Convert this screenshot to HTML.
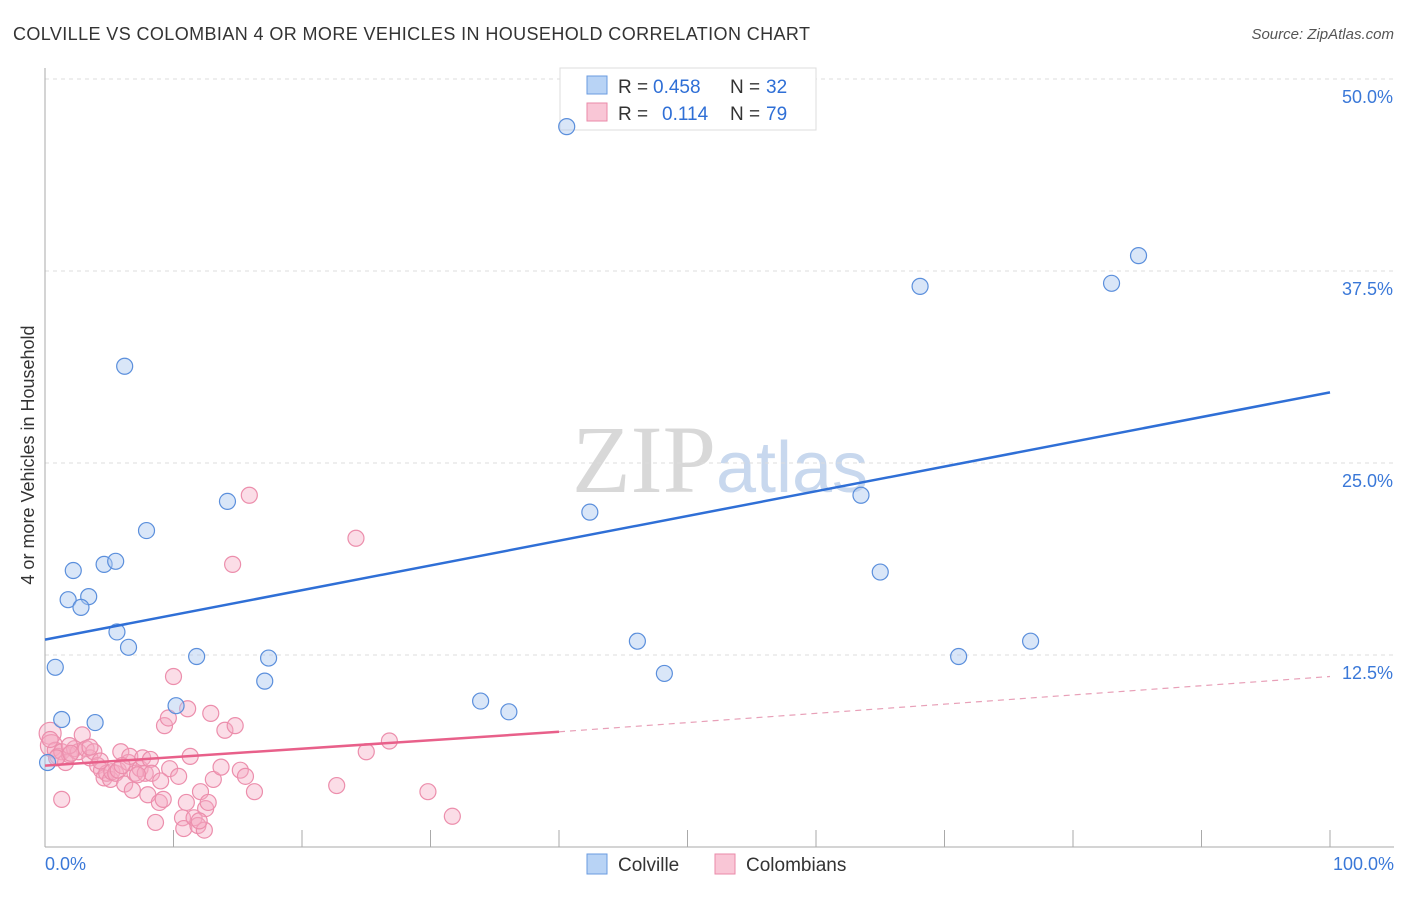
<!DOCTYPE html>
<html><head><meta charset="utf-8"><style>
body{margin:0;background:#fff;font-family:"Liberation Sans",sans-serif;}
</style></head><body>
<svg id="c" width="1406" height="892" xmlns="http://www.w3.org/2000/svg">
<text x="13" y="40" font-size="18" fill="#333" textLength="797">COLVILLE VS COLOMBIAN 4 OR MORE VEHICLES IN HOUSEHOLD CORRELATION CHART</text>
<text x="1394" y="39" font-size="15" fill="#555" font-style="italic" text-anchor="end">Source: ZipAtlas.com</text>
<text x="720" y="492" font-size="96" fill="#ddd" text-anchor="middle" font-family="Liberation Serif,serif"><tspan fill="#d8d8d8">ZIP</tspan><tspan fill="#c8d8ee" font-family="Liberation Sans,sans-serif" font-size="72">atlas</tspan></text>
<g id="grid"></g><g id="axes"></g>
<g>
<rect x="560" y="68" width="256" height="62" fill="#fff" stroke="#ddd"/>
<rect x="587" y="76" width="20" height="18" fill="#b8d3f5" stroke="#6a9be0"/>
<rect x="587" y="103" width="20" height="18" fill="#f9c6d6" stroke="#ea8aa8"/>
<text x="618" y="93" font-size="19" fill="#333">R =</text>
<text x="653" y="93" font-size="19" fill="#2f6fd6">0.458</text>
<text x="730" y="93" font-size="19" fill="#333">N =</text>
<text x="766" y="93" font-size="19" fill="#2f6fd6">32</text>
<text x="618" y="120" font-size="19" fill="#333">R =</text>
<text x="662" y="120" font-size="19" fill="#2f6fd6">0.114</text>
<text x="730" y="120" font-size="19" fill="#333">N =</text>
<text x="766" y="120" font-size="19" fill="#2f6fd6">79</text>
</g>
<g id="marks"></g>
<text transform="translate(34,455) rotate(-90)" font-size="18" fill="#333" text-anchor="middle">4 or more Vehicles in Household</text>
<g>
<rect x="587" y="854" width="20" height="20" fill="#b8d3f5" stroke="#6a9be0"/>
<text x="618" y="871" font-size="19" fill="#333">Colville</text>
<rect x="715" y="854" width="20" height="20" fill="#f9c6d6" stroke="#ea8aa8"/>
<text x="746" y="871" font-size="19" fill="#333">Colombians</text>
</g>
</svg>
<script>
const yTicks=[12.5,25,37.5,50];
const yTickLabels=["12.5%","25.0%","37.5%","50.0%"];
const xLabels=["0.0%","100.0%"];
const blueX=[40.6,85.1,83.0,68.1,6.2,14.2,7.9,42.4,63.5,65.0,2.2,4.6,5.5,1.8,3.4,2.8,5.6,6.5,46.1,76.7,71.1,11.8,17.4,0.8,48.2,17.1,10.2,33.9,36.1,1.3,3.9,0.2];
const blueY=[46.9,38.5,36.7,36.5,31.3,22.5,20.6,21.8,22.9,17.9,18.0,18.4,18.6,16.1,16.3,15.6,14.0,13.0,13.4,13.4,12.4,12.4,12.3,11.7,11.3,10.8,9.2,9.5,8.8,8.3,8.1,5.5];
const pinkX=[0.4,0.5,0.8,1.0,1.3,1.6,1.9,2.3,2.6,2.9,3.2,3.5,3.8,4.1,4.4,4.6,4.8,5.1,5.2,5.5,5.7,5.9,6.2,6.5,6.6,6.8,7.0,7.4,7.6,7.8,8.0,8.2,8.3,8.6,8.9,9.2,9.3,9.6,9.7,10.0,10.4,10.7,10.8,11.0,11.1,11.3,11.6,11.9,12.1,12.4,12.5,12.7,12.9,13.1,13.7,14.0,14.6,14.8,15.2,15.6,15.9,16.3,22.7,24.2,25.0,26.8,29.8,31.7,1.3,0.4,0.9,1.9,3.5,2.0,4.3,6.0,7.2,9.0,12.0];
const pinkY=[7.4,6.6,6.3,5.9,6.2,5.5,6.0,6.4,6.2,7.3,6.4,5.8,6.2,5.3,5.0,4.5,4.8,4.4,4.9,4.8,5.0,6.2,4.1,5.5,5.9,3.7,4.8,5.1,5.8,4.8,3.4,5.7,4.8,1.6,2.9,3.1,7.9,8.4,5.1,11.1,4.6,1.9,1.2,2.9,9.0,5.9,1.9,1.4,3.6,1.1,2.5,2.9,8.7,4.4,5.2,7.6,18.4,7.9,5.0,4.6,22.9,3.6,4.0,20.1,6.2,6.9,3.6,2.0,3.1,7.0,5.8,6.6,6.5,6.1,5.6,5.3,4.7,4.3,1.7];
const blueTrend=[13.5,29.6];
const pinkTrend=[5.3,7.5,11.1];
const X=v=>45+v*12.85, Y=v=>847-v*15.36;
const NS="http://www.w3.org/2000/svg";
function mk(t,a,p){const e=document.createElementNS(NS,t);for(const k in a)e.setAttribute(k,a[k]);p.appendChild(e);return e;}
const grid=document.getElementById('grid'),axes=document.getElementById('axes'),marks=document.getElementById('marks');
yTicks.forEach((v,i)=>{
 const l=mk('line',{x1:45,x2:1394,y1:Y(v),y2:Y(v),stroke:'#ddd','stroke-dasharray':'4,4'},grid);
 
 
 const t=mk('text',{x:1393,y:Y(v)+24,'font-size':18,fill:'#3a78d8','text-anchor':'end'},axes);
 t.textContent=yTickLabels[i];
 
 
});
mk('line',{x1:45,x2:45,y1:68,y2:847,stroke:'#aaa'},axes);
mk('line',{x1:45,x2:1394,y1:847,y2:847,stroke:'#aaa'},axes);
for(let i=0;i<=10;i++){mk('line',{x1:X(i*10),x2:X(i*10),y1:830,y2:847,stroke:'#aaa'},axes);}
const xl=[[45,'start'],[1394,'end']];
xLabels.forEach((s,i)=>{const t=mk('text',{x:xl[i][0],y:870,'font-size':18,fill:'#3a78d8','text-anchor':xl[i][1]},axes);t.textContent=s;
 
 });
pinkX.forEach((x,i)=>{const c=mk('circle',{cx:X(x),cy:Y(pinkY[i]),r:i<2?11:8,fill:'rgba(246,170,195,0.4)',stroke:'#ec8eac','stroke-width':1.2},marks);
 
 });
blueX.forEach((x,i)=>{const c=mk('circle',{cx:X(x),cy:Y(blueY[i]),r:8,fill:'rgba(170,200,240,0.45)',stroke:'#5b8fdc','stroke-width':1.2},marks);
 
 });
const bt=mk('line',{x1:X(0),y1:Y(blueTrend[0]),x2:X(100),y2:Y(blueTrend[1]),stroke:'#2f6fd6','stroke-width':2.5},marks);


const pt=mk('line',{x1:X(0),y1:Y(pinkTrend[0]),x2:X(40),y2:Y(pinkTrend[1]),stroke:'#e8608a','stroke-width':2.5},marks);


const pd=mk('line',{x1:X(40),y1:Y(pinkTrend[1]),x2:X(100),y2:Y(pinkTrend[2]),stroke:'#e8a0b8','stroke-width':1.2,'stroke-dasharray':'6,5'},marks);


</script>
</body></html>
